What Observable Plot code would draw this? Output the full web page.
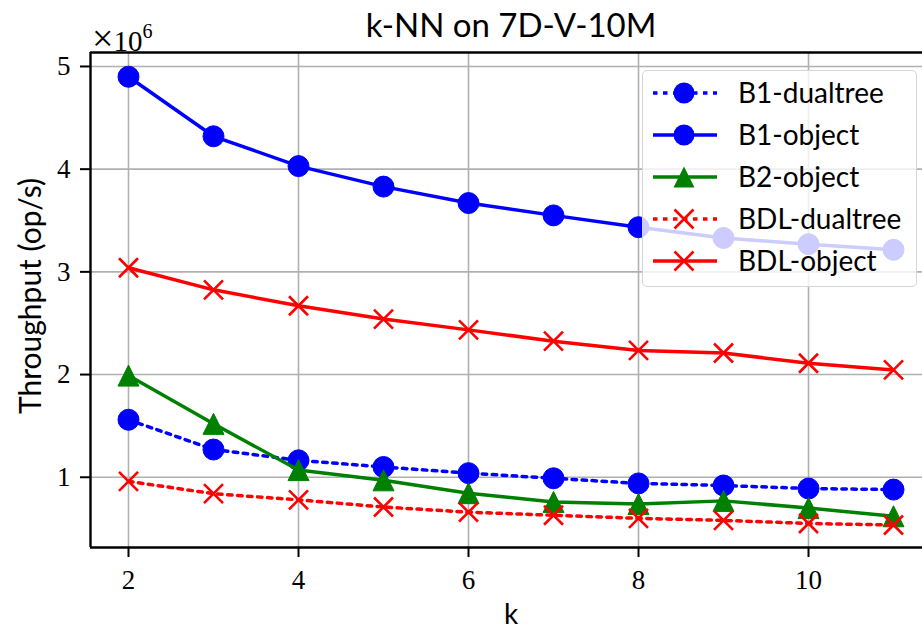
<!DOCTYPE html>
<html>
<head>
<meta charset="utf-8">
<script src="https://cdn.jsdelivr.net/npm/d3@7"></script>
<script src="https://cdn.jsdelivr.net/npm/@observablehq/plot@0.6"></script>
<style>
  html, body { margin: 0; padding: 0; background: white; }
  #wrap { position: relative; width: 922px; height: 630px; overflow: hidden; }
  .sans { font-family: Lato, "DejaVu Sans", sans-serif; color: black; }
  .serif { font-family: "Liberation Serif", serif; color: black; }
  .abs { position: absolute; white-space: nowrap; line-height: 1; }
  #legend { position: absolute; left: 642px; top: 70px; width: 273px; height: 215px;
    background: rgba(255,255,255,0.8); border: 1.5px solid #d6d6d6; border-radius: 5px; }
  .row { position: absolute; left: 0; height: 40px; width: 100%; }
  .row svg { position: absolute; left: 8px; top: 0; }
  .row span { position: absolute; left: 95px; top: 5px; font-size: 28px; line-height: 1; }
</style>
</head>
<body>
<div id="wrap"></div>
<script>
// ---- data (throughput in millions of op/s) ----
const ks = [2, 3, 4, 5, 6, 7, 8, 9, 10, 11];
const seriesNames = ["B1-dualtree", "B1-object", "B2-object", "BDL-dualtree", "BDL-object"];
const b1Dualtree  = [1.56, 1.27, 1.165, 1.10, 1.04, 0.99, 0.94, 0.92, 0.89, 0.88];
const b1Object    = [4.90, 4.32, 4.03, 3.83, 3.67, 3.55, 3.435, 3.33, 3.27, 3.215];
const b2Object    = [1.99, 1.52, 1.07, 0.97, 0.845, 0.76, 0.74, 0.77, 0.70, 0.62];
const bdlDualtree = [0.96, 0.84, 0.78, 0.71, 0.66, 0.63, 0.60, 0.58, 0.55, 0.535];
const bdlObject   = [3.04, 2.825, 2.67, 2.54, 2.435, 2.325, 2.235, 2.21, 2.11, 2.045];
const xTicks = [2, 4, 6, 8, 10];
const yTicks = [1, 2, 3, 4, 5];
const titleText = "k-NN on 7D-V-10M";
const xLabel = "k";
const yLabel = "Throughput (op/s)";

// ---- symbols ----
const tri = { draw(ctx, size) { const r = Math.sqrt(size / Math.PI);
  ctx.moveTo(0, -r); ctx.lineTo(r, r); ctx.lineTo(-r, r); ctx.closePath(); } };
const cross = { draw(ctx, size) { const r = Math.sqrt(size / Math.PI);
  ctx.moveTo(-r, -r); ctx.lineTo(r, r); ctx.moveTo(-r, r); ctx.lineTo(r, -r); } };

const styles = [
  { values: b1Dualtree,  color: "#0000ff", dash: "4.5,5.5", marker: "circle" },
  { values: b1Object,    color: "#0000ff", dash: null,      marker: "circle" },
  { values: b2Object,    color: "#008000", dash: null,      marker: "tri" },
  { values: bdlDualtree, color: "#ff0000", dash: "4.5,5.5", marker: "cross" },
  { values: bdlObject,   color: "#ff0000", dash: null,      marker: "cross" }
];

const xDomain = [1.553, 11.341];
const yDomain = [0.316, 5.136];
const grid = "#b0b0b0";

const marks = [
  Plot.ruleX(xTicks, { stroke: grid, strokeWidth: 1.6 }),
  Plot.ruleY(yTicks, { stroke: grid, strokeWidth: 1.6 }),
  Plot.axisX({ ticks: xTicks, tickSize: 10, tickPadding: 12, fontSize: 27, fontFamily: "Liberation Serif",
    label: null, tickFormat: d => String(d), strokeWidth: 2, fill: "black" }),
  Plot.axisY({ ticks: yTicks, tickSize: 10, tickPadding: 10, fontSize: 27, fontFamily: "Liberation Serif",
    label: null, tickFormat: d => String(d), strokeWidth: 2, fill: "black" })
];

styles.forEach((s, si) => {
  const rows = ks.map((k, i) => ({ k, v: s.values[i], name: seriesNames[si] }));
  marks.push(Plot.line(rows, { x: "k", y: "v", stroke: s.color, strokeWidth: 3.5,
    strokeDasharray: s.dash || undefined }));
  if (s.marker === "circle") {
    marks.push(Plot.dot(rows, { x: "k", y: "v", r: 10.5, fill: s.color, stroke: s.color, strokeWidth: 1 }));
  } else if (s.marker === "tri") {
    marks.push(Plot.dot(rows, { x: "k", y: "v", r: 10.5, symbol: tri, fill: s.color, stroke: s.color, strokeWidth: 1 }));
  } else {
    marks.push(Plot.dot(rows, { x: "k", y: "v", r: 9.5, symbol: cross, fill: "none", stroke: s.color, strokeWidth: 2.6 }));
  }
});

// spines (left, bottom, top)
marks.push(Plot.ruleX([xDomain[0]], { stroke: "black", strokeWidth: 2.4 }));
marks.push(Plot.ruleY([yDomain[0], yDomain[1]], { stroke: "black", strokeWidth: 2.4 }));

const chart = Plot.plot({
  width: 922, height: 630,
  marginLeft: 90, marginRight: 0, marginTop: 52, marginBottom: 83,
  x: { domain: xDomain },
  y: { domain: yDomain },
  style: { background: "white" },
  marks
});
const wrap = document.getElementById("wrap");
wrap.appendChild(chart);

// ---- text overlays ----
function addText(html, cls, css) {
  const d = document.createElement("div");
  d.className = "abs " + cls;
  d.innerHTML = html;
  Object.assign(d.style, css);
  wrap.appendChild(d);
  return d;
}
addText(titleText, "sans", { left: "90px", width: "842px", textAlign: "center", top: "8px", fontSize: "33px" });
addText("<span style='font-size:38px;line-height:1'>×</span>10<span style='font-size:20px;position:relative;top:-13px'>6</span>", "serif",
  { left: "92px", top: "19px", fontSize: "29px", display: "flex", alignItems: "baseline" });
addText(xLabel, "sans", { left: "90px", width: "842px", textAlign: "center", top: "599px", fontSize: "28px" });
addText(yLabel, "sans", { left: "29px", top: "296px", fontSize: "30px",
  transform: "translate(-50%,-50%) rotate(-90deg)" });

// ---- legend ----
const legend = document.createElement("div");
legend.id = "legend";
wrap.appendChild(legend);
const ns = "http://www.w3.org/2000/svg";
styles.forEach((s, i) => {
  const row = document.createElement("div");
  row.className = "row";
  row.style.top = (2 + i * 42) + "px";
  const svg = document.createElementNS(ns, "svg");
  svg.setAttribute("width", 70); svg.setAttribute("height", 40);
  const line = document.createElementNS(ns, "line");
  line.setAttribute("x1", 2); line.setAttribute("x2", 66);
  line.setAttribute("y1", 20); line.setAttribute("y2", 20);
  line.setAttribute("stroke", s.color); line.setAttribute("stroke-width", 3.5);
  if (s.dash) line.setAttribute("stroke-dasharray", s.dash);
  svg.appendChild(line);
  const cx = 33, cy = 20;
  let m;
  if (s.marker === "circle") {
    m = document.createElementNS(ns, "circle");
    m.setAttribute("cx", cx); m.setAttribute("cy", cy); m.setAttribute("r", 10.5);
    m.setAttribute("fill", s.color);
  } else if (s.marker === "tri") {
    m = document.createElementNS(ns, "path");
    m.setAttribute("d", `M${cx},${cy-10.5}L${cx+10.5},${cy+10.5}L${cx-10.5},${cy+10.5}Z`);
    m.setAttribute("fill", s.color);
  } else {
    m = document.createElementNS(ns, "path");
    m.setAttribute("d", `M${cx-9.5},${cy-9.5}L${cx+9.5},${cy+9.5}M${cx-9.5},${cy+9.5}L${cx+9.5},${cy-9.5}`);
    m.setAttribute("stroke", s.color); m.setAttribute("stroke-width", 2.6); m.setAttribute("fill", "none");
  }
  svg.appendChild(m);
  row.appendChild(svg);
  const t = document.createElement("span");
  t.className = "sans";
  t.textContent = seriesNames[i];
  row.appendChild(t);
  legend.appendChild(row);
});
</script>
</body>
</html>
